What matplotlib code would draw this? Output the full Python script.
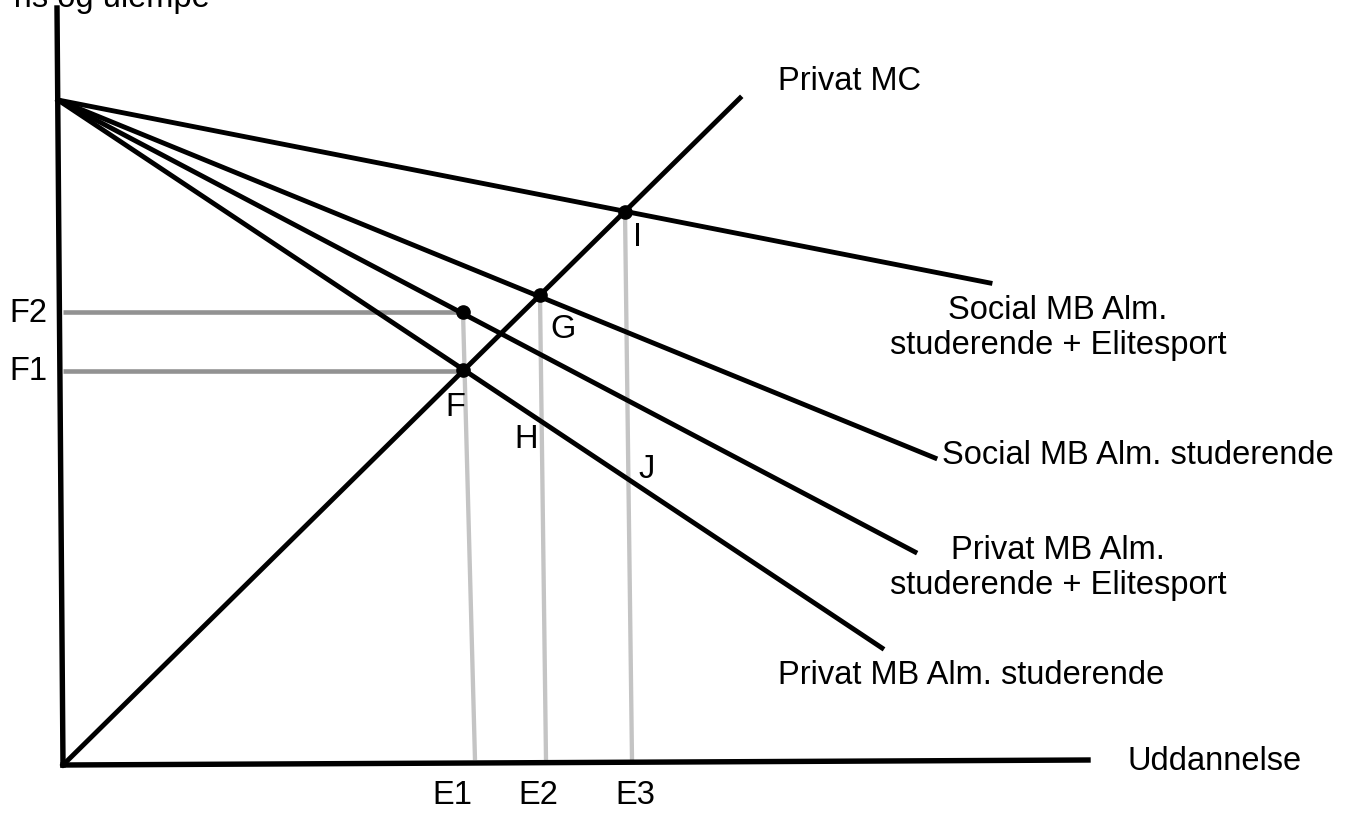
import matplotlib
matplotlib.use('Agg')
import matplotlib.pyplot as plt

plt.rcParams['font.family'] = ['Liberation Sans', 'DejaVu Sans']

# diagram coordinates (image units, y grows downward)
axis_y = [(57, 8), (63, 765)]
axis_x = [(63, 765), (1088, 760)]
mc_line = [(63, 765), (740, 98)]

mb_start = (58, 100)
mb_names = ['Social MB Alm. studerende + Elitesport', 'Social MB Alm. studerende',
            'Privat MB Alm. studerende + Elitesport', 'Privat MB Alm. studerende']
mb_ends = [(990, 283), (935, 458), (915, 552), (882, 648)]

# equilibrium points
pt_x = [463, 463, 540, 625]
pt_y = [312, 370, 295, 212]

# price guide lines (F2, F1)
price_y = [312, 371]
price_x0 = [63, 63]
price_x1 = [463, 463]

# quantity guide lines (E1, E2, E3)
qty_top = [(463, 312), (540, 295), (625, 212)]
qty_bottom = [(475, 760), (546, 760), (632, 760)]

fig = plt.figure(figsize=(13.53, 8.14), dpi=100)
ax = fig.add_axes([0, 0, 1, 1])
ax.set_xlim(0, 1353)
ax.set_ylim(814, 0)
ax.axis('off')

grey_dark = '#929292'
grey_light = '#c4c4c4'

for y, x0, x1 in zip(price_y, price_x0, price_x1):
	ax.plot([x0, x1], [y, y], color=grey_dark, lw=3.3, solid_capstyle='butt', zorder=1)
for top, bot in zip(qty_top, qty_bottom):
	ax.plot([top[0], bot[0]], [top[1], bot[1]], color=grey_light, lw=3.1, solid_capstyle='butt', zorder=1)

for seg in [axis_y, axis_x]:
	ax.plot([p[0] for p in seg], [p[1] for p in seg], color='black', lw=3.9, zorder=3)
ax.plot([p[0] for p in mc_line], [p[1] for p in mc_line], color='black', lw=3.5, zorder=3)
for end in mb_ends:
	ax.plot([mb_start[0], end[0]], [mb_start[1], end[1]], color='black', lw=3.5, zorder=3)

ax.plot(pt_x, pt_y, 'o', color='black', markersize=9.5, zorder=4)

fs = 23.5
ax.text(210, 7, 'Pris og ulempe', fontsize=fs, ha='right', va='baseline')
ax.text(778, 82, 'Privat MC', fontsize=fs, ha='left', va='center')
ax.text(1058, 328, 'Social MB Alm.\nstuderende + Elitesport', fontsize=fs, ha='center', va='center', multialignment='center')
ax.text(942, 455, 'Social MB Alm. studerende', fontsize=fs, ha='left', va='center')
ax.text(1058, 568, 'Privat MB Alm.\nstuderende + Elitesport', fontsize=fs, ha='center', va='center', multialignment='center')
ax.text(778, 676, 'Privat MB Alm. studerende', fontsize=fs, ha='left', va='center')
ax.text(1128, 762, 'Uddannelse', fontsize=fs, ha='left', va='center')

point_labels = ['I', 'G', 'F', 'H', 'J']
point_label_x = [638, 563, 455, 526, 647]
point_label_y = [238, 330, 408, 440, 470]
for lab, x, y in zip(point_labels, point_label_x, point_label_y):
	ax.text(x, y, lab, fontsize=fs, ha='center', va='center')

for lab, y in zip(['F2', 'F1'], price_y):
	ax.text(28, y + 1, lab, fontsize=fs, ha='center', va='center')
for lab, x in zip(['E1', 'E2', 'E3'], [452, 538, 635]):
	ax.text(x, 796, lab, fontsize=fs, ha='center', va='center')

fig.savefig('out.png', dpi=100, facecolor='white')
